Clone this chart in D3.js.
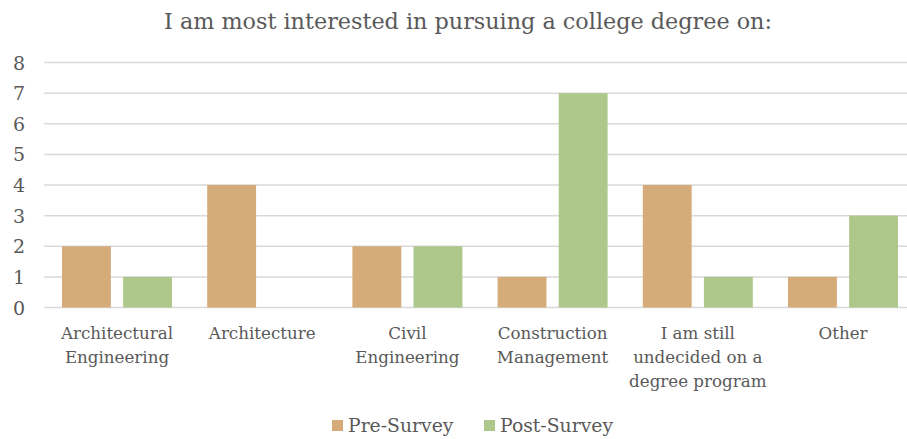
<!DOCTYPE html>
<html><head><meta charset="utf-8">
<script src="https://cdn.jsdelivr.net/npm/d3@7"></script>
<style>body{margin:0;background:#fff}svg{display:block}</style>
</head><body>
<script>
const categories = [["Architectural","Engineering"],["Architecture"],["Civil","Engineering"],["Construction","Management"],["I am still","undecided on a","degree program"],["Other"]];
const preSurvey = [2,4,2,1,4,1];
const postSurvey = [1,0,2,7,1,3];
const yTicks = [0,1,2,3,4,5,6,7,8];
const seriesNames = ["Pre-Survey","Post-Survey"];
const colors = ["#D6AB7A","#ADC88A"];
const title = "I am most interested in pursuing a college degree on:";

const FONT="'Liberation Serif', 'DejaVu Serif', serif";
const W=907,H=439;
const svg=d3.select("body").append("svg").attr("width",W).attr("height",H)
  .attr("font-family","'DejaVu Serif', serif").attr("fill","#595959");
const left=44.4, step=145.2;
const x=d3.scaleBand().domain(d3.range(categories.length)).range([left,left+step*categories.length]).paddingInner(0).paddingOuter(0);
const y=d3.scaleLinear().domain([0,8]).range([307.5,62.5]);
const inner=d3.scaleBand().domain([0,1]).range([17.6,step-17.6]).paddingInner(0.2);

svg.append("text").attr("x",468).attr("y",29).attr("text-anchor","middle").attr("font-size",22.3).text(title);

const g=svg.append("g");
g.selectAll("line.grid").data(yTicks).join("line").attr("x1",left).attr("x2",W).attr("y1",d=>y(d)).attr("y2",d=>y(d)).attr("stroke","#d9d9d9").attr("stroke-width",1.5);
g.selectAll("text.yt").data(yTicks).join("text").attr("x",25).attr("y",d=>y(d)+7).attr("text-anchor","end").attr("font-size",19).text(d=>d);

const data=categories.map((c,i)=>[preSurvey[i],postSurvey[i]]);
const grp=g.selectAll("g.cat").data(data).join("g").attr("transform",(d,i)=>`translate(${x(i)},0)`);
grp.selectAll("rect").data(d=>d.map((v,k)=>({v,k}))).join("rect")
 .attr("x",d=>inner(d.k)).attr("width",inner.bandwidth())
 .attr("y",d=>y(d.v)).attr("height",d=>y(0)-y(d.v)).attr("fill",d=>colors[d.k]);

categories.forEach((lines,i)=>{
  const t=g.append("text").attr("text-anchor","middle").attr("font-size",16.7);
  lines.forEach((l,j)=>t.append("tspan").attr("x",x(i)+step/2).attr("y",339+j*24).text(l));
});

const legX=[332,484];
seriesNames.forEach((n,k)=>{
  svg.append("rect").attr("x",legX[k]).attr("y",420).attr("width",11).attr("height",11).attr("fill",colors[k]);
  svg.append("text").attr("x",legX[k]+16).attr("y",432).attr("font-size",18.8).text(n);
});
</script>
</body></html>
